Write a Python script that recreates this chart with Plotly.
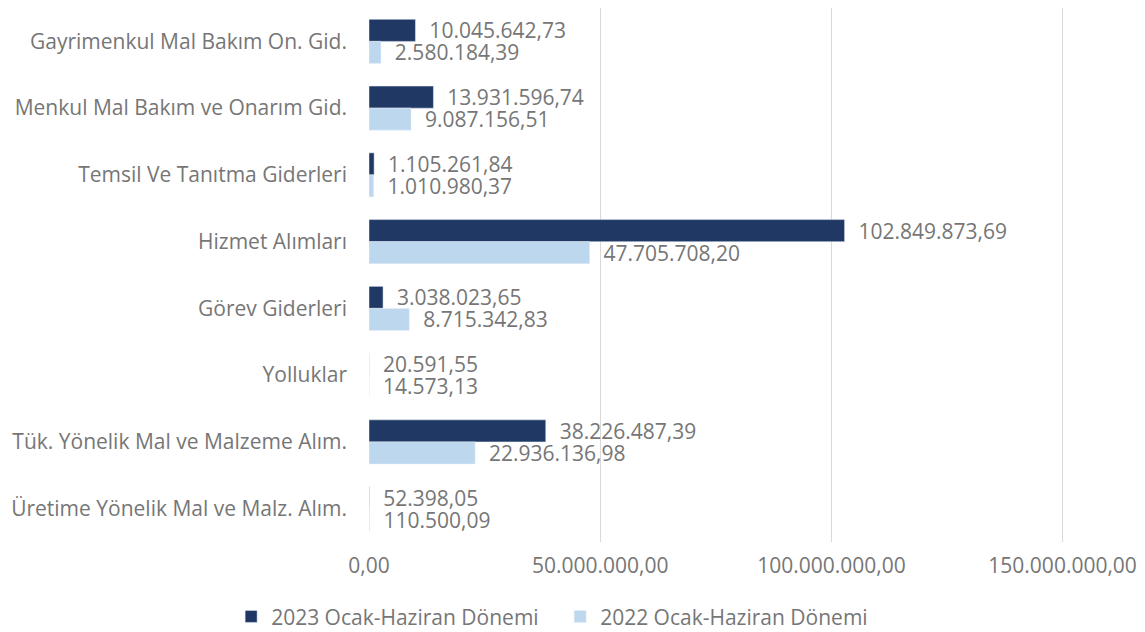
import plotly.graph_objects as go

categories = [
    "Gayrimenkul Mal Bakım On. Gid.",
    "Menkul Mal Bakım ve Onarım Gid.",
    "Temsil Ve Tanıtma Giderleri",
    "Hizmet Alımları",
    "Görev Giderleri",
    "Yolluklar",
    "Tük. Yönelik Mal ve Malzeme Alım.",
    "Üretime Yönelik Mal ve Malz. Alım.",
]
values_2023 = [10045642.73, 13931596.74, 1105261.84, 102849873.69, 3038023.65, 20591.55, 38226487.39, 52398.05]
values_2022 = [2580184.39, 9087156.51, 1010980.37, 47705708.20, 8715342.83, 14573.13, 22936136.98, 110500.09]
series_names = ["2023 Ocak-Haziran Dönemi", "2022 Ocak-Haziran Dönemi"]
tick_values = [0, 50000000, 100000000, 150000000]

FONT = "Open Sans"
GRAY = "#767676"
pad = "\u00a0\u00a0"

fig = go.Figure()
fig.add_trace(go.Bar(
    y=categories, x=values_2023, name=series_names[0], orientation="h",
    marker_color="#1F3864", texttemplate=pad + "%{x:,.2f}", textposition="outside",
    textfont=dict(family=FONT, size=21, color=GRAY), cliponaxis=False,
    constraintext="none",
))
fig.add_trace(go.Bar(
    y=categories, x=values_2022, name=series_names[1], orientation="h",
    marker_color="#BDD7EE", texttemplate=pad + "%{x:,.2f}", textposition="outside",
    textfont=dict(family=FONT, size=21, color=GRAY), cliponaxis=False,
    constraintext="none",
))

fig.update_layout(
    width=1129, height=624,
    margin=dict(l=361, r=73, t=0, b=90, autoexpand=False),
    barmode="group", bargap=0.34, bargroupgap=0,
    separators=",.",
    paper_bgcolor="white", plot_bgcolor="white",
    font=dict(family=FONT, size=21, color=GRAY),
    legend=dict(orientation="h", x=0.275, xanchor="center", y=-0.14, yanchor="middle",
                font=dict(family=FONT, size=21, color=GRAY), itemwidth=30,
                entrywidth=284, entrywidthmode="pixels",
                traceorder="normal"),
)
fig.update_xaxes(
    range=[0, 150300000], tickvals=tick_values, tickformat=",.2f",
    showgrid=True, gridcolor="#D9D9D9", gridwidth=1, zeroline=False,
    showline=False, ticks="", ticklabelstandoff=9, automargin=False,
    tickfont=dict(family=FONT, size=21, color=GRAY),
)
fig.update_yaxes(
    autorange="reversed", showgrid=False, showline=False, ticks="",
    ticklabelstandoff=21, automargin=False,
    tickfont=dict(family=FONT, size=21, color=GRAY),
)

fig.write_html("out.html")
